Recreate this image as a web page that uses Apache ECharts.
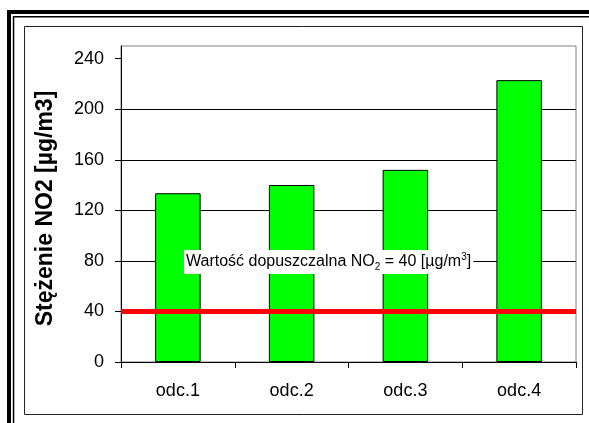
<!DOCTYPE html>
<html>
<head>
<meta charset="utf-8">
<script src="https://cdn.jsdelivr.net/npm/echarts@6/dist/echarts.min.js"></script>
<style>
html,body{margin:0;padding:0;background:#fff;}
#c{width:589px;height:423px;}
</style>
</head>
<body>
<div id="c"></div>
<script>
const categories = ['odc.1', 'odc.2', 'odc.3', 'odc.4'];
const values = [133.5, 140, 152, 223];
const limitValue = 40;
const yTicks = [0, 40, 80, 120, 160, 200, 240];
const yTitle = 'Stężenie NO2 [µg/m3]';

const FONT = '"Liberation Sans", Arial, sans-serif';
const chart = echarts.init(document.getElementById('c'), null, {renderer: 'canvas'});

chart.setOption({
  backgroundColor: '#fff',
  animation: false,
  grid: {
    left: 121, right: 13, top: 46, bottom: 61,
    show: true, borderColor: '#808080', borderWidth: 1, backgroundColor: 'transparent'
  },
  xAxis: {
    type: 'category',
    data: categories,
    boundaryGap: true,
    axisLine: {show: true, lineStyle: {color: '#000', width: 1}},
    axisTick: {show: true, length: 6, alignWithLabel: false, lineStyle: {color: '#000'}},
    axisLabel: {fontSize: 18, fontFamily: FONT, color: '#000', margin: 20},
    splitLine: {show: false}
  },
  yAxis: {
    type: 'value',
    min: 0, max: 250, interval: 40,
    name: yTitle,
    nameLocation: 'middle',
    nameRotate: 90,
    nameGap: 64,
    nameTextStyle: {fontSize: 23, fontWeight: 'bold', fontFamily: FONT, color: '#000', padding: [0, 9, 0, 0]},
    axisLine: {show: true, lineStyle: {color: '#000', width: 1}},
    axisTick: {show: true, length: 6, customValues: yTicks, lineStyle: {color: '#000'}},
    axisLabel: {fontSize: 18, fontFamily: FONT, color: '#000', margin: 17, customValues: yTicks},
    splitLine: {show: true, showMaxLine: false, lineStyle: {color: '#000', width: 1}}
  },
  series: [{
    type: 'bar',
    data: values,
    barWidth: '40%',
    itemStyle: {color: '#00FF00', borderColor: '#000', borderWidth: 1},
    markLine: {
      silent: true,
      symbol: ['none', 'none'],
      label: {show: false},
      lineStyle: {color: '#FF0000', width: 5, type: 'solid'},
      data: [{yAxis: limitValue}]
    }
  }],
  graphic: [
    {type: 'rect', z: 100, shape: {x: 7, y: 10, width: 590, height: 4}, style: {fill: '#000'}},
    {type: 'rect', z: 100, shape: {x: 13, y: 16, width: 590, height: 1.5}, style: {fill: '#000'}},
    {type: 'rect', z: 100, shape: {x: 7, y: 10, width: 4, height: 420}, style: {fill: '#000'}},
    {type: 'rect', z: 100, shape: {x: 12.8, y: 16, width: 1.5, height: 420}, style: {fill: '#000'}},
    {type: 'rect', z: 100, shape: {x: 24.5, y: 26.5, width: 558, height: 388}, style: {fill: 'none', stroke: '#222', lineWidth: 1}},
    {
      type: 'text', z: 100, left: 184, top: 250,
      style: {
        text: '{a|Wartość dopuszczalna NO}{sub|2}{a| = ' + limitValue + ' [µg/m}{sup|3}{a|]}',
        backgroundColor: '#fff',
        padding: [2, 2, 2, 2],
        rich: {
          a: {fontSize: 16, fontFamily: FONT, fill: '#000', lineHeight: 20, verticalAlign: 'middle'},
          sub: {fontSize: 10, fontFamily: FONT, fill: '#000', lineHeight: 10, verticalAlign: 'bottom'},
          sup: {fontSize: 10, fontFamily: FONT, fill: '#000', lineHeight: 10, verticalAlign: 'top'}
        }
      }
    }
  ]
});
</script>
</body>
</html>
